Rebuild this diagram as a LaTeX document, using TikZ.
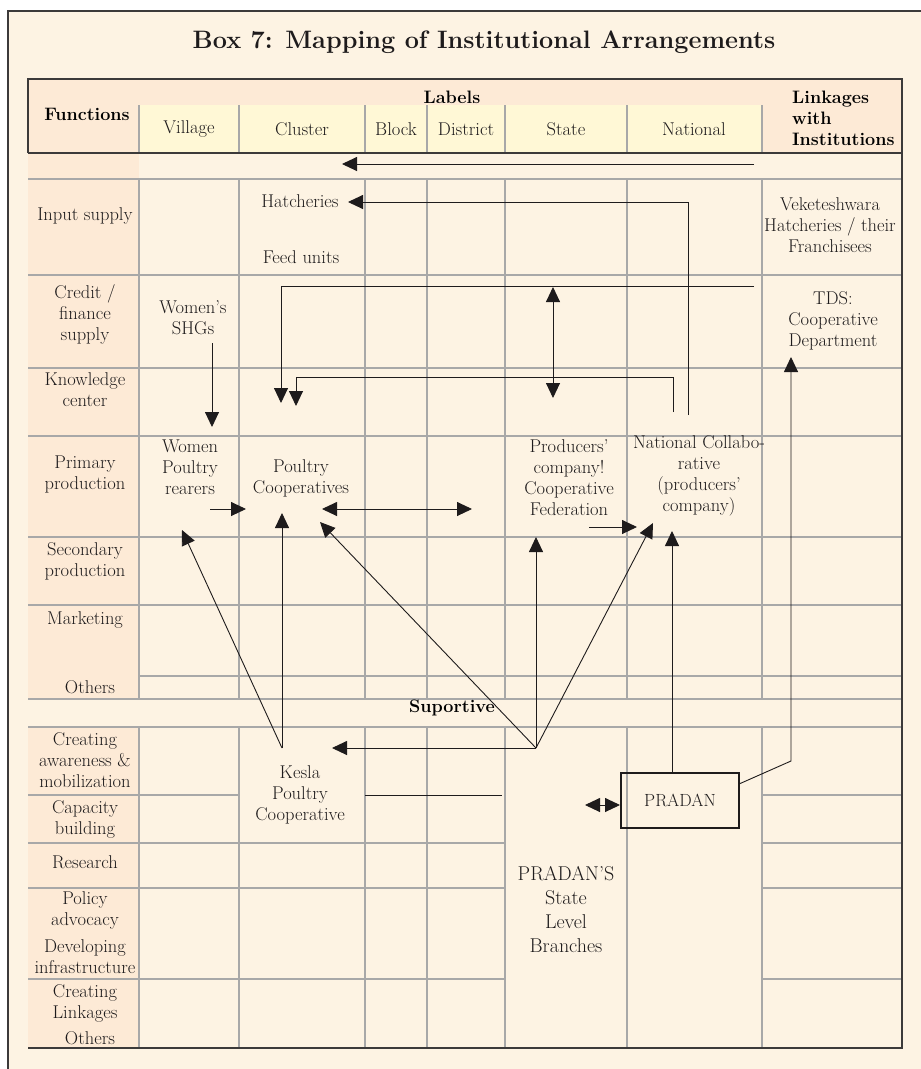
\documentclass[tikz,border=0pt]{standalone}
\usetikzlibrary{arrows.meta}
\definecolor{cream}{RGB}{253,243,227}
\definecolor{peach}{RGB}{253,234,214}
\definecolor{hdryel}{RGB}{255,248,214}
\definecolor{gridc}{RGB}{168,168,168}
\definecolor{ink}{RGB}{30,27,28}
\definecolor{frame}{RGB}{60,58,58}
\begin{document}
\begin{tikzpicture}[x=1pt,y=-1pt,
  txt/.style={font=\fontsize{18.5}{21}\selectfont, align=center, inner sep=0pt, text=ink},
  bld/.style={font=\fontsize{18}{21}\selectfont\bfseries, align=center, inner sep=0pt, text=black},
  gridl/.style={draw=gridc, line width=1.1pt},
  darkl/.style={draw=frame, line width=1.8pt},
  conn/.style={draw=ink, line width=0.9pt},
  arr/.style={conn, -{Triangle[length=15pt,width=14pt]}},
  dbl/.style={conn, {Triangle[length=15pt,width=14pt]}-{Triangle[length=15pt,width=14pt]}},
  boxp/.style={draw=ink, line width=2.6pt, minimum width=118pt, minimum height=55pt, inner sep=0pt,
    font=\fontsize{17.6}{19}\selectfont, text=ink}]
\useasboundingbox (0,0) rectangle (921,1069);
% page and frame
\fill[white] (0,0) rectangle (921,1069);
\fill[cream] (8,11) rectangle (921,1069);
\draw[frame, line width=1.4pt] (8,1069) -- (8,11) -- (921,11);
% table fills
\fill[peach] (28,79) rectangle (902,153);
\fill[hdryel] (139,105) rectangle (762,153);
\fill[peach] (28,153) rectangle (139,699);
\fill[peach] (28,727) rectangle (139,1048);
% grid: header verticals
\foreach \x in {139,239,365,427,505,627,762} \draw[gridl] (\x,105) -- (\x,153);
% upper section
\foreach \x in {139,239,365,427,505,627,762} \draw[gridl] (\x,179) -- (\x,699);
\foreach \y in {179,275,368,436,537,605,699} \draw[gridl] (28,\y) -- (902,\y);
\draw[gridl] (138,676) -- (902,676);
% lower section
\foreach \x in {139,239,365,427,505,627,762} \draw[gridl] (\x,727) -- (\x,1048);
\draw[gridl] (28,727) -- (902,727);
\draw[gridl] (28,795) -- (239,795);
\foreach \y in {843,888,979} \draw[gridl] (28,\y) -- (505,\y);
\foreach \y in {795,843,888,979} \draw[gridl] (762,\y) -- (902,\y);
% dark borders
\draw[darkl] (28,153) -- (28,79) -- (902,79) -- (902,1048) -- (28,1048);
\draw[darkl] (28,153) -- (902,153);

% title and headers
\node[font=\fontsize{25.2}{28}\selectfont\bfseries, inner sep=0pt, text=ink] (title) at (484,42) {Box 7: Mapping of Institutional Arrangements};
\node[bld] (func) at (87,114) {Functions};
\node[bld] (labels) at (452,97) {Labels};
\node[bld, align=left, anchor=west] (linkh) at (792,118) {Linkages\\with\\Institutions};
\node[txt] (village) at (189,129) {Village};
\node[txt] (cluster) at (302,129) {Cluster};
\node[txt] (block) at (396,129) {Block};
\node[txt] (district) at (466,129) {District};
\node[txt] (state) at (566,129) {State};
\node[txt] (national) at (694,129) {National};

% function labels
\node[txt] (input) at (85,216) {Input supply};
\node[txt] (credit) at (85,314) {Credit /\\finance\\supply};
\node[txt] (know) at (85,389.5) {Knowledge\\center};
\node[txt] (prim) at (85,474.5) {Primary\\production};
\node[txt] (sec) at (85,561.5) {Secondary\\production};
\node[txt] (mkt) at (85,620) {Marketing};
\node[txt] (othA) at (90,687) {Others};
\node[bld] (supp) at (452,708) {Suportive};
\node[txt] (aware) at (85,760) {Creating\\awareness \&\\mobilization};
\node[txt] (capb) at (85,819) {Capacity\\building};
\node[txt] (resr) at (85,862) {Research};
\node[txt] (poli) at (85,910) {Policy\\advocacy};
\node[txt] (devi) at (85,957) {Developing\\infrastructure};
\node[txt] (clink) at (85,1003) {Creating\\Linkages};
\node[txt] (othB) at (90,1038) {Others};

% institution nodes
\node[txt] (hatch) at (300,201) {Hatcheries};
\node[txt] (feed) at (301,257) {Feed units};
\node[txt] (vek) at (830,225.5) {Veketeshwara\\Hatcheries / their\\Franchisees};
\node[txt] (tds) at (833,321) {TDS:\\Cooperative\\Department};
\node[txt] (shg) at (193,317.5) {Women's\\SHGs};
\node[txt] (wpr) at (190,467) {Women\\Poultry\\rearers};
\node[txt] (pcoop) at (301,478.5) {Poultry\\Cooperatives};
\node[txt] (prodc) at (569,477.5) {Producers'\\company!\\Cooperative\\Federation};
\node[txt] (natc) at (699,476) {National Collabo-\\rative\\(producers'\\company)};
\node[txt] (kesla) at (300,794.5) {Kesla\\Poultry\\Cooperative};
\node[boxp] (pradan) at (680,800.5) {PRADAN};
\node[txt, font=\fontsize{20}{23.8}\selectfont] (pstate) at (566,909.5) {PRADAN'S\\State\\Level\\Branches};

% connector end points
\coordinate (tbR) at (754,164);  \coordinate (tbL) at (342,164);
\coordinate (hatS) at (688,415); \coordinate (hatE) at (348,202);
\coordinate (crS) at (754,286);  \coordinate (crE) at (281,403);
\coordinate (knS) at (673,412);  \coordinate (knC) at (673,377);
\coordinate (knD) at (296,377);  \coordinate (knE) at (296,406);
\coordinate (stT) at (553,287);  \coordinate (stB) at (553,398);
\coordinate (shgS) at (212,343); \coordinate (shgE) at (212,427);
\coordinate (wprS) at (210,509); \coordinate (wprE) at (246,509);
\coordinate (pcR) at (322,509);  \coordinate (pcF) at (472,509);
\coordinate (pdS) at (589,527);  \coordinate (pdE) at (637,527);
\coordinate (kesT) at (282,748); \coordinate (hub) at (536,748);
\coordinate (pcB) at (282,513);  \coordinate (wprB) at (182,530);
\coordinate (kesA) at (332,748); \coordinate (pcD) at (320,522);
\coordinate (prB) at (536,537);  \coordinate (ncB) at (653,523);
\coordinate (kesR) at (365,795); \coordinate (psL) at (502,795);
\coordinate (ncU) at (672,531);  \coordinate (prT) at (672,773);
\coordinate (prR) at (739,784);  \coordinate (tdK) at (791,761);
\coordinate (tdE) at (791,357);
\coordinate (bxL) at (585,805);  \coordinate (bxR) at (620,805);

% connectors
\draw[arr] (tbR) -- (tbL);
\draw[arr] (hatS) |- (hatE);
\draw[arr] (crS) -| (crE);
\draw[arr] (knS) -- (knC) -- (knD) -- (knE);
\draw[dbl] (stT) -- (stB);
\draw[arr] (shgS) -- (shgE);
\draw[arr] (wprS) -- (wprE);
\draw[dbl] (pcR) -- (pcF);
\draw[arr] (pdS) -- (pdE);
\draw[arr] (kesT) -- (pcB);
\draw[arr] (kesT) -- (wprB);
\draw[arr] (hub) -- (kesA);
\draw[arr] (hub) -- (pcD);
\draw[arr] (hub) -- (prB);
\draw[arr] (hub) -- (ncB);
\draw[conn] (kesR) -- (psL);
\draw[arr] (prT) -- (ncU);
\draw[arr] (prR) -- (tdK) -- (tdE);
\draw[dbl] (bxL) -- (bxR);
\end{tikzpicture}
\end{document}
